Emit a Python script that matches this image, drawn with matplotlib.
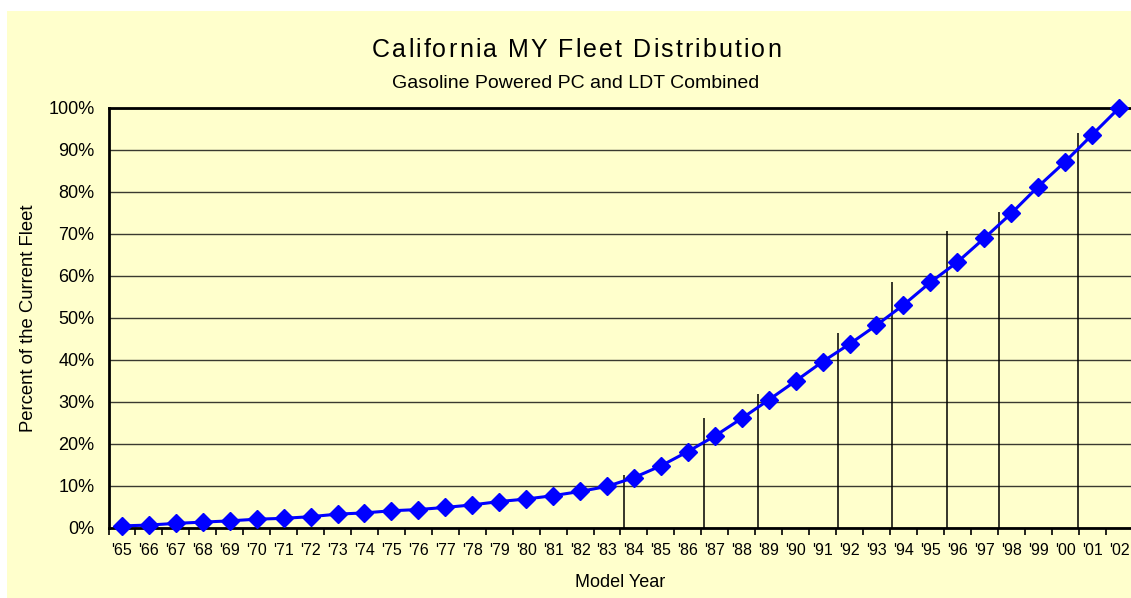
import matplotlib
matplotlib.use("Agg")
import matplotlib.pyplot as plt
from matplotlib.patches import Rectangle
from matplotlib.ticker import FuncFormatter

plt.rcParams['font.family'] = ['Liberation Sans', 'DejaVu Sans']

years = ["'65", "'66", "'67", "'68", "'69", "'70", "'71", "'72", "'73", "'74",
         "'75", "'76", "'77", "'78", "'79", "'80", "'81", "'82", "'83", "'84",
         "'85", "'86", "'87", "'88", "'89", "'90", "'91", "'92", "'93", "'94",
         "'95", "'96", "'97", "'98", "'99", "'00", "'01", "'02"]
percent = [0.5, 0.7, 1.1, 1.4, 1.7, 2.1, 2.3, 2.7, 3.3, 3.6,
           4.1, 4.4, 4.9, 5.5, 6.3, 6.9, 7.7, 8.7, 9.9, 12.0,
           14.8, 18.2, 21.9, 26.1, 30.5, 35.0, 39.6, 43.8, 48.3, 53.1,
           58.5, 63.3, 69.0, 74.9, 81.3, 87.2, 93.6, 100.0]

# vertical reference lines: position (category index units) and top value (%)
ref_pos = [18.64, 21.6, 23.6, 26.57, 28.58, 30.62, 32.53, 35.48]
ref_top = [12.6, 26.2, 31.9, 46.4, 58.6, 70.7, 75.2, 94.0]

title = "California MY Fleet Distribution"
subtitle = "Gasoline Powered PC and LDT Combined"
xlabel = "Model Year"
ylabel = "Percent of the Current Fleet"

W, H = 1131, 598
fig = plt.figure(figsize=(W / 100, H / 100), dpi=100)
fig.patch.set_facecolor('white')
bg = '#FFFFCC'
fig.patches.append(Rectangle((7 / W, 0), 1 - 7 / W, (H - 11) / H,
                             transform=fig.transFigure, facecolor=bg,
                             edgecolor='none', zorder=-10))

ax = fig.add_axes([108.5 / W, (H - 528) / H, 1024 / W, 420 / H])
ax.set_facecolor(bg)

x = list(range(len(years)))
ax.set_xlim(-0.5, len(years) - 0.5)
ax.set_ylim(0, 100)

ax.set_yticks(range(0, 101, 10))
ax.yaxis.set_major_formatter(FuncFormatter(lambda v, p: f"{int(v)}%"))
ax.grid(axis='y', color='#3a3a30', linewidth=1.0, zorder=1)
ax.set_axisbelow(True)

ax.set_xticks(x)
ax.set_xticklabels(years)
ax.set_xticks([i + 0.5 for i in range(-1, len(years))], minor=True)
ax.tick_params(axis='x', which='major', length=0, pad=11, labelsize=11.5)
ax.tick_params(axis='x', which='minor', length=5, width=1.2, direction='out')
ax.tick_params(axis='y', length=0, pad=10, labelsize=13)

ax.vlines(ref_pos, 0, ref_top, color='black', linewidth=1.1, zorder=2)

ax.plot(x, percent, color='#0000FF', linewidth=2.2, marker='D',
        markersize=9.5, markerfacecolor='#0000FF', markeredgecolor='#0000FF',
        zorder=3, clip_on=False)

for s in ['left', 'bottom', 'top']:
    ax.spines[s].set_linewidth(2)
    ax.spines[s].set_color('black')
ax.spines['right'].set_visible(False)

ax.set_xlabel(xlabel, fontsize=13, labelpad=11)
ax.set_ylabel(ylabel, fontsize=13.3, labelpad=8)

# letter-spaced title (reference uses wide tracking)
renderer = fig.canvas.get_renderer()


def text_width(s, size):
    t = fig.text(0, 0, s, fontsize=size)
    w = t.get_window_extent(renderer).width
    t.remove()
    return w


tsize = 18
left_px, right_px = 372, 781
natural = text_width(title, tsize)
gap = (right_px - left_px - natural) / (len(title) - 1)
baseline = 57
for i, ch in enumerate(title):
    if ch == ' ':
        continue
    offset = text_width(title[:i + 1], tsize) - text_width(ch, tsize)
    xpx = left_px + offset + i * gap
    fig.text(xpx / W, 1 - baseline / H, ch, ha='left', va='baseline',
             fontsize=tsize)

fig.text(576 / W, 1 - 83 / H, subtitle, ha='center', va='center', fontsize=14)

fig.savefig('out.png', dpi=100, facecolor=fig.get_facecolor())
